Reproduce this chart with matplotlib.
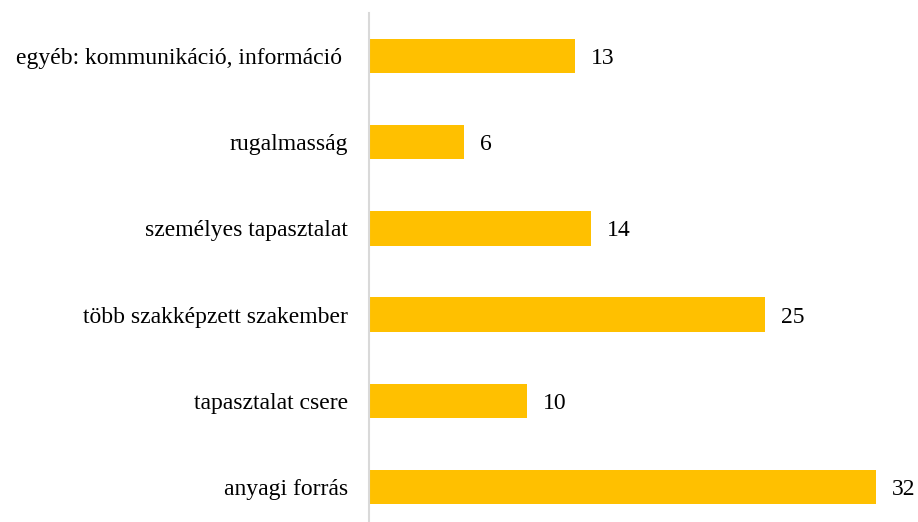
import matplotlib
matplotlib.use("Agg")
import matplotlib.pyplot as plt

categories = ["anyagi forrás", "tapasztalat csere", "több szakképzett szakember",
              "személyes tapasztalat", "rugalmasság", "egyéb: kommunikáció, információ "]
values = [32, 10, 25, 14, 6, 13]

plt.rcParams['font.family'] = ['Liberation Serif', 'DejaVu Serif']

fig = plt.figure(figsize=(9.18, 5.22), dpi=100)
ax = fig.add_axes([369/918, 0.0, 1 - 369/918, 1 - 13/522])
y = list(range(len(categories)))
ax.barh(y, values, height=0.4, color="#FFC000")
ax.set_xlim(0, (918 - 369) / ((876 - 369) / 32))
ax.set_ylim(-(522 - 487) / 86.2, 5 + (56 - 13) / 86.2)
ax.set_yticks(y)
ax.set_yticklabels(categories, fontsize=17)
ax.tick_params(axis='y', length=0, pad=15)
ax.set_xticks([])
for s in ["top", "right", "bottom"]:
    ax.spines[s].set_visible(False)
ax.spines["left"].set_color("#D9D9D9")
ax.spines["left"].set_linewidth(1.5)
for yi, v in zip(y, values):
    ax.text(v + 1.0, yi, str(v), va="center_baseline", ha="left", fontsize=17)
fig.savefig("out.png", dpi=100)
